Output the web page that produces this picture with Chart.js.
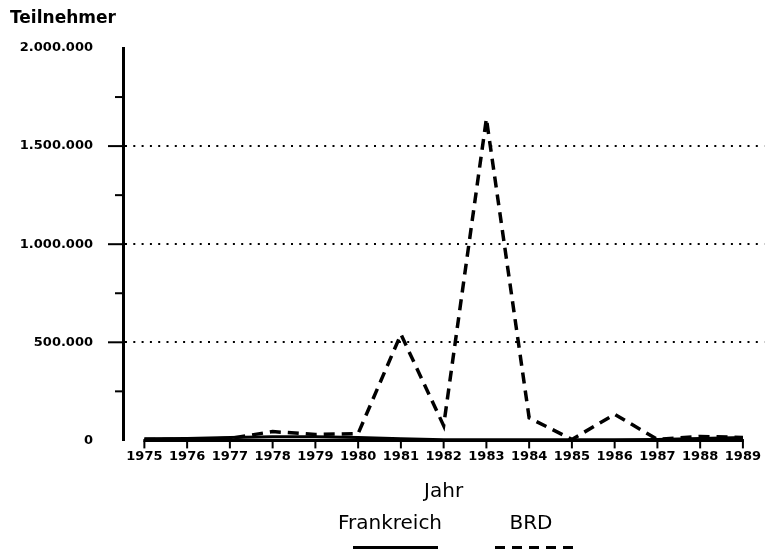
<!DOCTYPE html>
<html lang="de">
<head>
<meta charset="utf-8">
<title>Teilnehmer Frankreich / BRD</title>
<script src="https://cdn.jsdelivr.net/npm/chart.js@4.4.1/dist/chart.umd.min.js"></script>
<style>
  html, body { margin: 0; padding: 0; background: #fff; }
  #rahmen { position: relative; width: 769px; height: 551px; overflow: hidden; }
  #grafik { position: absolute; left: 0; top: 0; }
  .leg { position: absolute; font-family: "DejaVu Sans", sans-serif; font-size: 20px; color: #000; transform: translate(-50%, -50%); white-space: nowrap; }
  .probe { position: absolute; height: 3px; }
  #probeFr { left: 353px; top: 546px; width: 85px; background: #000; }
  #probeBrd { left: 495px; top: 546px; width: 82px; background: repeating-linear-gradient(to right, #000 0 10px, transparent 10px 17px); }
</style>
</head>
<body>
<div id="rahmen">
  <canvas id="grafik" width="769" height="551"></canvas>
  <div class="leg" style="left:390px; top:522px;">Frankreich</div>
  <div class="leg" style="left:531px; top:522px;">BRD</div>
  <div class="probe" id="probeFr"></div>
  <div class="probe" id="probeBrd"></div>
</div>
<script>
// Daten
const jahre = ["1975", "1976", "1977", "1978", "1979", "1980", "1981", "1982",
               "1983", "1984", "1985", "1986", "1987", "1988", "1989"];
const frankreich = [8000, 10000, 15000, 18000, 18000, 15000, 8000, 3000,
                    3000, 3000, 3000, 3000, 5000, 10000, 15000];
const brd = [5000, 5000, 10000, 45000, 30000, 35000, 541000, 75000,
             1640000, 115000, 5000, 133000, 5000, 20000, 15000];
const yMax = 2000000;
const ySchritt = 250000;
const yBeschriftung = 500000;

function punkte(n) {
  return String(n).replace(/\B(?=(\d{3})+(?!\d))/g, ".");
}

// Achsenlinie unten und Teilstriche selbst zeichnen
const achsenPlugin = {
  id: "achsen",
  beforeDatasetsDraw(chart) {
    const { ctx, scales: { x, y } } = chart;
    const strich = (x1, y1, x2, y2) => {
      ctx.beginPath();
      ctx.moveTo(x1, y1);
      ctx.lineTo(x2, y2);
      ctx.stroke();
    };
    ctx.save();
    ctx.strokeStyle = "#000";
    ctx.lineCap = "butt";

    // y-Teilstriche
    ctx.lineWidth = 2;
    y.ticks.forEach(t => {
      if (t.value === 0 || t.value === yMax) return;
      const py = y.getPixelForValue(t.value);
      const len = t.value % yBeschriftung === 0 ? 15 : 8;
      strich(y.right - len, py, y.right, py);
    });

    // x-Achse von erstem bis letztem Jahr
    const null_y = y.getPixelForValue(0);
    const xa = x.getPixelForValue(0);
    const xb = x.getPixelForValue(jahre.length - 1);
    ctx.lineWidth = 3;
    strich(xa - 1, null_y, xb + 1, null_y);
    ctx.lineWidth = 2;
    jahre.forEach((j, i) => {
      const px = x.getPixelForValue(i);
      strich(px, null_y, px, null_y + 8);
    });
    ctx.restore();
  }
};

const ctx = document.getElementById("grafik").getContext("2d");

new Chart(ctx, {
  type: "line",
  data: {
    labels: jahre,
    datasets: [
      {
        label: "Frankreich",
        data: frankreich,
        borderColor: "#000",
        borderWidth: 3,
        pointRadius: 0,
        tension: 0,
        fill: false
      },
      {
        label: "BRD",
        data: brd,
        borderColor: "#000",
        borderWidth: 3.5,
        borderDash: [11, 7],
        pointRadius: 0,
        tension: 0,
        fill: false
      }
    ]
  },
  options: {
    responsive: false,
    animation: false,
    layout: { padding: { left: 10, right: 0, top: 0, bottom: 47 } },
    plugins: {
      legend: { display: false },
      tooltip: { enabled: false },
      title: {
        display: true,
        text: "Teilnehmer",
        align: "start",
        color: "#000",
        font: { family: "DejaVu Sans", size: 17, weight: "bold" },
        padding: { top: 8, bottom: 19.6 }
      }
    },
    scales: {
      x: {
        type: "category",
        offset: true,
        grid: { display: false, drawTicks: false },
        border: { display: false },
        ticks: {
          color: "#000",
          font: { family: "DejaVu Sans", size: 13, weight: "bold" },
          padding: 8,
          autoSkip: false,
          maxRotation: 0
        },
        title: {
          display: true,
          text: "Jahr",
          color: "#000",
          font: { family: "DejaVu Sans", size: 20 },
          padding: { top: 8, bottom: 0 }
        }
      },
      y: {
        min: 0,
        max: yMax,
        afterFit(scale) { scale.width = 113; },
        grid: {
          drawTicks: false,
          lineWidth: 2,
          color: c => (c.tick && c.tick.value % yBeschriftung === 0 &&
                       c.tick.value !== 0 && c.tick.value !== yMax) ? "#000" : "rgba(0,0,0,0)"
        },
        border: { display: true, color: "#000", width: 3, dash: [2, 6.3] },
        ticks: {
          stepSize: ySchritt,
          autoSkip: false,
          color: "#000",
          padding: 30,
          font: { family: "DejaVu Sans", size: 13, weight: "bold" },
          callback: v => (v % yBeschriftung === 0 ? punkte(v) : "")
        }
      }
    }
  },
  plugins: [achsenPlugin]
});
</script>
</body>
</html>
